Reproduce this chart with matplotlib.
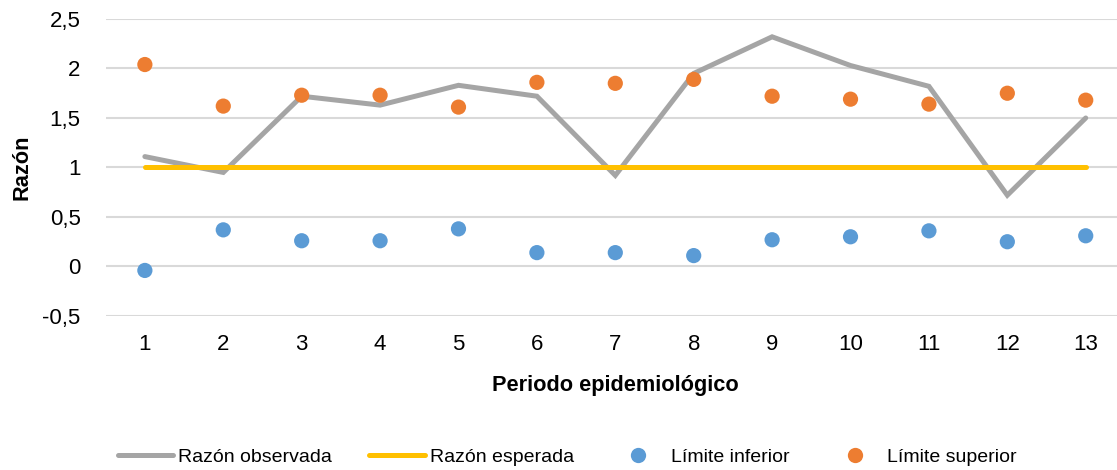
import matplotlib
matplotlib.use("Agg")
import matplotlib.pyplot as plt
from matplotlib.lines import Line2D
from matplotlib.ticker import FuncFormatter

plt.rcParams['font.family'] = ['Liberation Sans', 'DejaVu Sans']

# Razones por periodo epidemiológico
periodos = [1, 2, 3, 4, 5, 6, 7, 8, 9, 10, 11, 12, 13]
razon_observada = [1.11, 0.95, 1.72, 1.63, 1.83, 1.72, 0.92, 1.95, 2.32, 2.03, 1.82, 0.72, 1.50]
razon_esperada = [1, 1, 1, 1, 1, 1, 1, 1, 1, 1, 1, 1, 1]
limite_inferior = [-0.04, 0.37, 0.26, 0.26, 0.38, 0.14, 0.14, 0.11, 0.27, 0.30, 0.36, 0.25, 0.31]
limite_superior = [2.04, 1.62, 1.73, 1.73, 1.61, 1.86, 1.85, 1.89, 1.72, 1.69, 1.64, 1.75, 1.68]

GRIS = '#A5A5A5'
AMARILLO = '#FFC000'
AZUL = '#5B9BD5'
NARANJA = '#ED7D31'

fig = plt.figure(figsize=(11.17, 4.70), dpi=100)
ax = fig.add_axes([0.0946, 0.3277, 0.9125, 0.6319])

ax.plot(periodos, razon_observada, color=GRIS, lw=3.6, solid_capstyle='round',
        solid_joinstyle='miter', zorder=3)
ax.plot(periodos, razon_esperada, color=AMARILLO, lw=3.6, solid_capstyle='round', zorder=4)
ax.scatter(periodos, limite_inferior, s=120, color=AZUL, edgecolors='none', zorder=5)
ax.scatter(periodos, limite_superior, s=120, color=NARANJA, edgecolors='none', zorder=5)

ax.set_xlim(0.5, 13.5)
ax.set_ylim(-0.5, 2.5)
ax.set_xticks(periodos)
ax.set_yticks([-0.5, 0, 0.5, 1, 1.5, 2, 2.5])
ax.yaxis.set_major_formatter(FuncFormatter(lambda v, p: ('%g' % v).replace('.', ',')))
ax.tick_params(length=0, labelsize=16, colors='black')
ax.tick_params(axis='y', pad=18)
ax.tick_params(axis='x', pad=13)
ax.grid(axis='y', color='#D9D9D9', lw=1.5)
ax.set_axisbelow(True)
for s in ax.spines.values():
    s.set_visible(False)

ax.set_xlabel('Periodo epidemiológico', fontsize=15.7, fontweight='bold', va='center')
ax.xaxis.set_label_coords(0.5, -0.2357)
ax.set_ylabel('Razón', fontsize=15.7, fontweight='bold', va='center')
ax.yaxis.set_label_coords(-0.082, 0.5)

handles = [
    Line2D([], [], color=GRIS, lw=3.6, solid_capstyle='round'),
    Line2D([], [], color=AMARILLO, lw=3.6, solid_capstyle='round'),
    Line2D([], [], ls='none', marker='o', ms=11, color=AZUL, markeredgecolor='none'),
    Line2D([], [], ls='none', marker='o', ms=11, color=NARANJA, markeredgecolor='none'),
]
labels = ['Razón observada', 'Razón esperada', 'Límite inferior', 'Límite superior']
fig.legend(handles, labels, loc='center', bbox_to_anchor=(0.508, 0.028), ncol=4,
           frameon=False, fontsize=14, handlelength=2.85, handletextpad=0.26,
           columnspacing=1.9, borderpad=0)

fig.savefig('out.png', dpi=100)
